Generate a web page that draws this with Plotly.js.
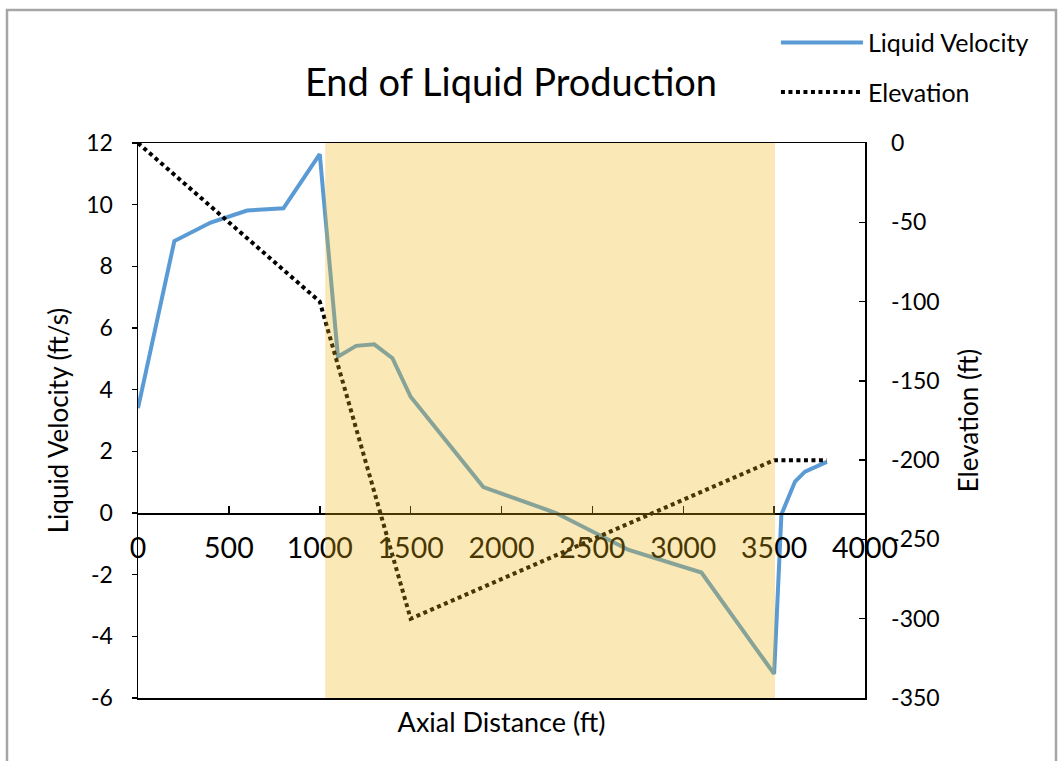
<!DOCTYPE html>
<html>
<head>
<meta charset="utf-8">
<script src="https://cdn.plot.ly/plotly-3.0.1.min.js"></script>
<style>html,body{margin:0;padding:0;background:#fff;}#chart{width:1063px;height:761px;}</style>
</head>
<body>
<div id="chart"></div>
<script>
// Liquid velocity series (ft/s) vs axial distance (ft)
const velocityDistance = [0, 200, 400, 600, 800, 1000, 1100, 1200, 1300, 1400, 1500, 1900, 2300, 2700, 3100, 3500, 3540, 3615, 3670, 3790];
const velocityValues   = [3.4, 8.82, 9.42, 9.81, 9.88, 11.64, 5.07, 5.42, 5.47, 5.02, 3.77, 0.84, 0.0, -1.2, -1.93, -5.22, -0.05, 1.02, 1.34, 1.66];

// Elevation series (ft) vs axial distance (ft)
const elevationDistance = [0, 1000, 1500, 3500, 3790];
const elevationValues   = [0, -100, -300, -200, -200];

// Highlighted distance interval (ft)
const shadedRegion = [1030, 3505];

const xTickValues = [0, 500, 1000, 1500, 2000, 2500, 3000, 3500, 4000];
const leftTickValues = [-6, -4, -2, 0, 2, 4, 6, 8, 10, 12];
const rightTickValues = [-350, -300, -250, -200, -150, -100, -50, 0];

const FONT = 'Lato, "Open Sans", sans-serif';
const label = v => String(v); // plain hyphen-minus like the original

const traces = [
  {
    x: velocityDistance, y: velocityValues, name: 'Liquid Velocity',
    type: 'scatter', mode: 'lines', xaxis: 'x', yaxis: 'y',
    line: {color: '#5B9BD5', width: 4}, legendgroup: 'a'
  },
  {
    x: elevationDistance, y: elevationValues, name: 'Elevation',
    type: 'scatter', mode: 'lines', xaxis: 'x2', yaxis: 'y2',
    line: {color: '#000000', width: 4, dash: '4px,3.5px'}, legendgroup: 'b'
  }
];

const layout = {
  width: 1063, height: 761,
  margin: {l: 138, r: 198, t: 143, b: 63},
  paper_bgcolor: '#ffffff', plot_bgcolor: '#ffffff',
  font: {family: FONT, size: 20, color: '#000'},
  title: {
    text: 'End of Liquid Production',
    font: {family: FONT, size: 38, color: '#000'},
    x: 511 / 1063, xref: 'container', xanchor: 'center',
    y: 1 - 83 / 761, yref: 'container', yanchor: 'middle'
  },
  showlegend: true,
  legend: {
    x: 0.8775, xanchor: 'left', y: 1.222, yanchor: 'top',
    font: {family: FONT, size: 25, color: '#000'},
    bgcolor: 'rgba(0,0,0,0)', traceorder: 'grouped', tracegroupgap: 14,
    itemwidth: 82
  },
  xaxis: {
    range: [0, 4000], showgrid: false, zeroline: false,
    showline: true, linecolor: '#000', linewidth: 1.5, mirror: true,
    ticks: '', showticklabels: false,
    title: {text: 'Axial Distance (ft)', font: {family: FONT, size: 27}, standoff: 14}
  },
  xaxis2: {
    range: [0, 4000], overlaying: 'x', anchor: 'free', position: 1/3,
    tickvals: xTickValues, ticktext: xTickValues.map(label),
    ticks: 'inside', ticklen: 7, tickwidth: 1.5, tickcolor: '#000',
    showline: true, linecolor: '#000', linewidth: 1.5, showgrid: false, zeroline: false,
    tickfont: {family: FONT, size: 28.5}, ticklabelstandoff: 9
  },
  yaxis: {
    range: [-6, 12], tickvals: leftTickValues, ticktext: leftTickValues.map(label),
    showgrid: false, zeroline: false,
    showline: true, linecolor: '#000', linewidth: 1.5, mirror: true,
    ticks: 'outside', ticklen: 5, tickwidth: 1.5, tickcolor: '#000',
    tickfont: {family: FONT, size: 23}, ticklabelstandoff: 14,
    title: {text: 'Liquid Velocity (ft/s)', font: {family: FONT, size: 26}, standoff: 10}
  },
  yaxis2: {
    range: [-350, 0], tickvals: rightTickValues, ticktext: rightTickValues.map(label),
    overlaying: 'y', side: 'right', anchor: 'x',
    showgrid: false, zeroline: false, showline: true, linecolor: '#000', linewidth: 1.5,
    ticks: 'inside', ticklen: 6, tickwidth: 1.5, tickcolor: '#000',
    tickfont: {family: FONT, size: 23}, ticklabelstandoff: 20,
    title: {text: 'Elevation (ft)', font: {family: FONT, size: 26}, standoff: 21}
  },
  shapes: [
    {
      type: 'rect', xref: 'x', yref: 'paper',
      x0: shadedRegion[0], x1: shadedRegion[1], y0: 0, y1: 1,
      fillcolor: 'rgba(240,182,12,0.3)', line: {width: 0}, layer: 'above'
    },
    {
      type: 'rect', xref: 'paper', yref: 'paper',
      x0: -0.1802, x1: 1.2627, y0: -0.1297, y1: 1.2396,
      fillcolor: 'rgba(0,0,0,0)', line: {color: '#a6a6a6', width: 2.5}, layer: 'below'
    }
  ]
};

Plotly.newPlot('chart', traces, layout, {displayModeBar: false, staticPlot: true});
</script>
</body>
</html>
